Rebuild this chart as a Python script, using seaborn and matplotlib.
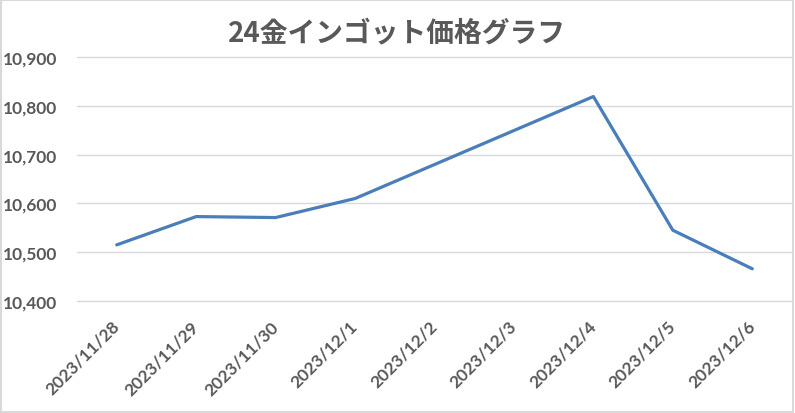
# 24金インゴット価格グラフ - line chart of daily gold ingot prices
import pandas as pd
import matplotlib
matplotlib.use("Agg")
import matplotlib.pyplot as plt
from matplotlib.patches import Rectangle
import seaborn as sns

# ── data (weekend 12/2, 12/3 has no price) ──────────────────
dates = ["2023-11-28", "2023-11-29", "2023-11-30", "2023-12-01",
         "2023-12-04", "2023-12-05", "2023-12-06"]
prices = [10515, 10573, 10571, 10610, 10819, 10545, 10466]
tick_days = ["2023-11-28", "2023-11-29", "2023-11-30", "2023-12-01", "2023-12-02",
             "2023-12-03", "2023-12-04", "2023-12-05", "2023-12-06"]
y_ticks = [10400, 10500, 10600, 10700, 10800, 10900]
title = "24金インゴット価格グラフ"

df = pd.DataFrame({"date": pd.to_datetime(dates), "price": prices})

sns.set_theme(style="white")
plt.rcParams["font.family"] = ["Lato", "Noto Sans CJK JP", "DejaVu Sans"]

text_color = "#595959"
grid_color = "#d9d9d9"

fig = plt.figure(figsize=(7.95, 4.14), dpi=100)
ax = fig.add_axes([77 / 795, 1 - 302 / 414, (792 - 77) / 795, (302 - 58) / 414])

# horizontal gridlines drawn by hand so the bottom one is not clipped
for v in y_ticks:
    ax.axhline(v, color=grid_color, linewidth=1, clip_on=False, zorder=0)

sns.lineplot(data=df, x="date", y="price", ax=ax, color="#4a7ebb", linewidth=2.3)

ticks = pd.to_datetime(tick_days)
ax.set_xlim(ticks[0] - pd.Timedelta(hours=12), ticks[-1] + pd.Timedelta(hours=12))
ax.set_ylim(y_ticks[0], y_ticks[-1])
ax.set_xticks(ticks)
ax.set_xticklabels([f"{d.year}/{d.month}/{d.day}" for d in ticks])
ax.set_yticks(y_ticks)
ax.set_yticklabels([f"{v:,}" for v in y_ticks])

for lab in ax.get_xticklabels():
    lab.set_rotation(45)
    lab.set_ha("right")
    lab.set_va("center")
    lab.set_rotation_mode("anchor")
ax.tick_params(axis="x", length=0, pad=16, labelsize=12.5, labelcolor=text_color)
ax.tick_params(axis="y", length=0, pad=14, labelsize=12.5, labelcolor=text_color)
for lab in ax.get_xticklabels() + ax.get_yticklabels():
    lab.set_fontweight("bold")

ax.grid(False)
for s in ax.spines.values():
    s.set_visible(False)
ax.set_xlabel("")
ax.set_ylabel("")

fig.text(397 / 795, 1 - 33 / 414, title, ha="center", va="center",
         fontsize=20, fontweight="bold", color=text_color,
         family=["Noto Sans CJK JP", "DejaVu Sans"])

# light gray chart border
fig.patches.append(Rectangle((0.001, 0.002), 0.997, 0.996, transform=fig.transFigure,
                             fill=False, edgecolor=grid_color, linewidth=1.5))

fig.savefig("out.png", dpi=100)
